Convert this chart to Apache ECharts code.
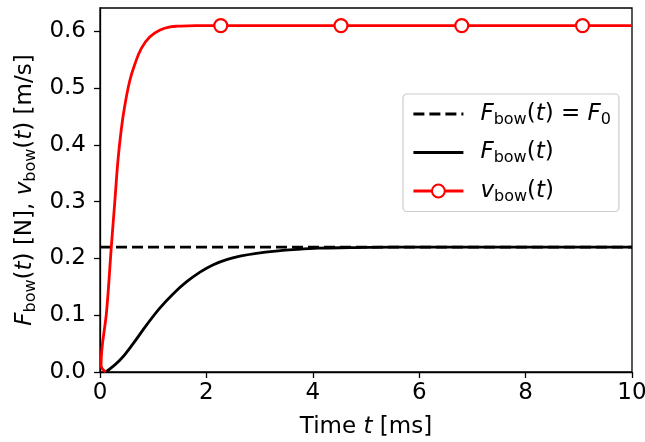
<!DOCTYPE html>
<html>
<head>
<meta charset="utf-8">
<script src="https://cdn.jsdelivr.net/npm/echarts@6/dist/echarts.min.js"></script>
<style>
  html, body { margin: 0; padding: 0; background: #fff; }
  #main { width: 645px; height: 442px; }
</style>
</head>
<body>
<div id="main"></div>
<script>
// F0 reference level
var f0Time = [0, 10];
var f0Force = [0.22, 0.22];

// bow force F_bow(t)
var forceTime = [0.11, 0.376, 0.627, 0.877, 1.128, 1.378, 1.63, 1.88, 2.13, 2.38, 2.63, 2.94, 3.3, 3.7, 4.1, 4.7, 5.5, 7, 10];
var forceVal  = [0.0, 0.021, 0.0505, 0.083, 0.113, 0.138, 0.159, 0.176, 0.189, 0.198, 0.204, 0.209, 0.213, 0.216, 0.218, 0.219, 0.22, 0.22, 0.22];

// bow velocity v_bow(t)
var velTime = [0.11, 0.02, 0.126, 0.213, 0.276, 0.338, 0.401, 0.464, 0.557, 0.651, 0.777, 0.934, 1.12, 1.34, 1.46, 1.8, 2.27, 4.53, 6.8, 9.07, 10];
var velVal  = [0.0, 0.012, 0.109, 0.2207, 0.297, 0.373, 0.428, 0.468, 0.512, 0.541, 0.57, 0.59, 0.602, 0.608, 0.609, 0.61, 0.61, 0.61, 0.61, 0.61, 0.61];
var velMarkers = [2.27, 4.53, 6.8, 9.07];

var yTicks = [0, 0.1, 0.2, 0.3, 0.4, 0.5, 0.6];

var FONT = 'DejaVu Sans';
var FS = 23;

function pairs(xs, ys) {
  return xs.map(function (x, i) { return [x, ys[i]]; });
}

var rich = {
  n: { fontFamily: FONT, fontSize: FS, color: '#000' },
  i: { fontFamily: FONT, fontSize: FS, fontStyle: 'italic', color: '#000' },
  s: { fontFamily: FONT, fontSize: 16, color: '#000', padding: [11, 0, 0, 0] },
  g: { width: 12 }
};

var chart = echarts.init(document.getElementById('main'), null, { renderer: 'canvas' });

var velData = pairs(velTime, velVal).map(function (p) {
  return velMarkers.indexOf(p[0]) >= 0 ? { value: p } : { value: p, symbol: 'none' };
});

chart.setOption({
  animation: false,
  backgroundColor: '#fff',
  grid: {
    left: 100, right: 13, top: 8, bottom: 70,
    outerBoundsMode: 'none',
    show: true, borderColor: '#000', borderWidth: 1.3, backgroundColor: 'transparent'
  },
  legend: {
    orient: 'vertical',
    left: 403, top: 94,
    padding: [7, 8, 7, 9],
    itemGap: 12,
    itemWidth: 50, itemHeight: 16,
    backgroundColor: '#fff',
    borderColor: '#cccccc', borderWidth: 1.2, borderRadius: 4,
    data: [
      { name: 'F0', itemStyle: { opacity: 0 }, lineStyle: { width: 2.8 } },
      { name: 'F', itemStyle: { opacity: 0 }, lineStyle: { width: 2.8 } },
      { name: 'v', lineStyle: { width: 2.8 } }
    ],
    textStyle: { rich: rich, lineHeight: 26 },
    formatter: function (name) {
      if (name === 'F0') return '{g|}{i|F}{s|bow}{n|(}{i|t}{n|) = }{i|F}{s|0}';
      if (name === 'F') return '{g|}{i|F}{s|bow}{n|(}{i|t}{n|)}';
      return '{g|}{i|v}{s|bow}{n|(}{i|t}{n|)}';
    }
  },
  xAxis: {
    type: 'value', min: 0, max: 10, interval: 2,
    name: '{n|Time }{i|t}{n| [ms]}',
    nameLocation: 'middle', nameGap: 44,
    nameTextStyle: { rich: rich },
    axisLine: { lineStyle: { color: '#000', width: 1.3 } },
    axisTick: { show: true, length: 6, lineStyle: { color: '#000', width: 1.3 } },
    axisLabel: { fontFamily: FONT, fontSize: FS, color: '#000', margin: 10 },
    splitLine: { show: false }
  },
  yAxis: {
    type: 'value', min: 0, max: 0.641,
    name: '{i|F}{s|bow}{n|(}{i|t}{n|) [N], }{i|v}{s|bow}{n|(}{i|t}{n|) [m/s]}',
    nameLocation: 'middle', nameGap: 60, nameRotate: 90,
    nameTextStyle: { rich: rich },
    axisLine: { show: true, lineStyle: { color: '#000', width: 1.3 } },
    axisTick: { show: true, length: 6, customValues: yTicks, lineStyle: { color: '#000', width: 1.3 } },
    axisLabel: {
      fontFamily: FONT, fontSize: FS, color: '#000', margin: 14,
      customValues: yTicks,
      formatter: function (v) { return v.toFixed(1); }
    },
    splitLine: { show: false }
  },
  series: [
    {
      name: 'F0', type: 'line', symbol: 'none',
      data: pairs(f0Time, f0Force),
      lineStyle: { color: '#000', width: 2.8, type: [11, 5] },
      itemStyle: { color: '#000' },
      z: 2
    },
    {
      name: 'F', type: 'line', symbol: 'none', smooth: 0.4,
      data: pairs(forceTime, forceVal),
      lineStyle: { color: '#000', width: 2.8 },
      itemStyle: { color: '#000' },
      z: 3
    },
    {
      name: 'v', type: 'line', symbol: 'circle', symbolSize: 13, smooth: 0.4,
      showAllSymbol: true,
      data: velData,
      lineStyle: { color: '#ff0000', width: 2.8 },
      itemStyle: { color: '#fff', borderColor: '#ff0000', borderWidth: 2.2 },
      z: 4
    }
  ]
});
</script>
</body>
</html>
